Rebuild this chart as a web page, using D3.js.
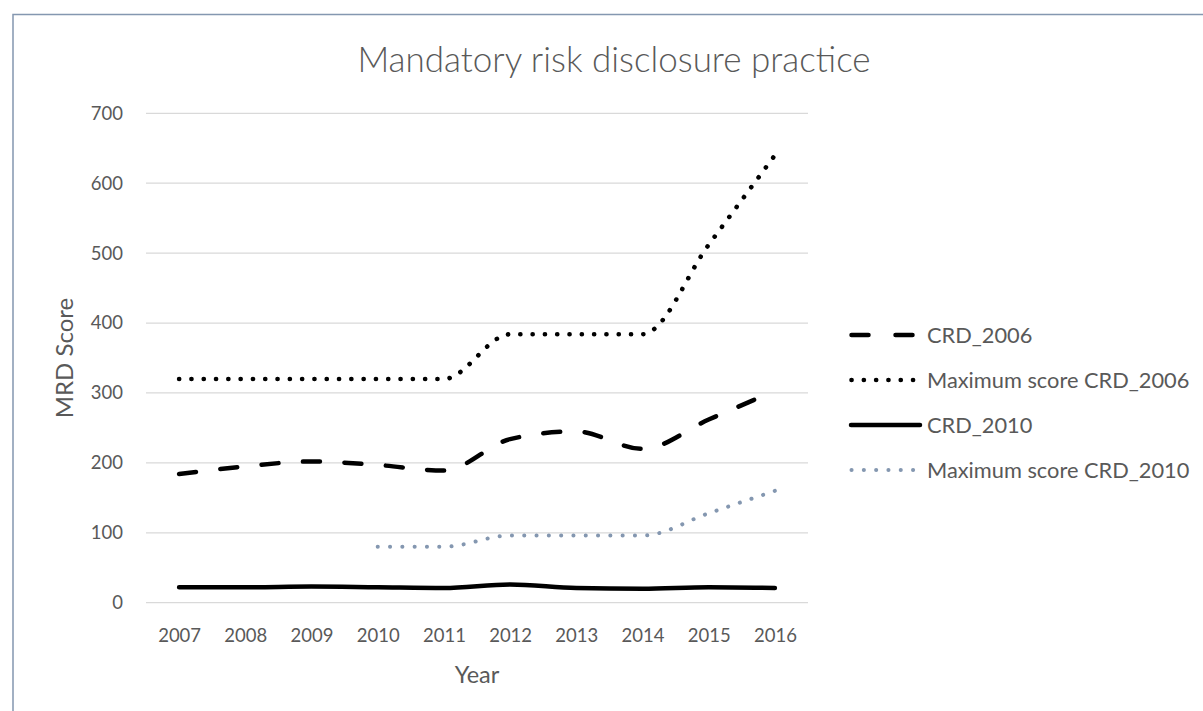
<!DOCTYPE html>
<html>
<head>
<meta charset="utf-8">
<script src="https://cdn.jsdelivr.net/npm/d3@7"></script>
<style>
  html, body { margin: 0; padding: 0; background: #ffffff; }
  svg { display: block; }
  text { font-family: Lato, "Open Sans", "Liberation Sans", sans-serif; fill: #595959; }
</style>
</head>
<body>
<svg id="chart" width="1203" height="711"></svg>
<script>
const years = ["2007","2008","2009","2010","2011","2012","2013","2014","2015","2016"];
const crd2006 = [184, 195, 202, 197, 189, 234, 245, 220, 262, 303];
const maxCrd2006 = [320, 320, 320, 320, 320, 384, 384, 384, 512, 640];
const crd2010 = [22, 22, 23, 22, 21, 26, 21, 20, 22, 21];
const maxCrd2010 = [null, null, null, 80, 80, 96, 96, 96, 128, 160];
const yTicks = [0, 100, 200, 300, 400, 500, 600, 700];
const seriesNames = ["CRD_2006", "Maximum score CRD_2006", "CRD_2010", "Maximum score CRD_2010"];

const series = [
  { name: seriesNames[0], values: crd2006, stroke: "#000000", width: 4.5, dash: "17,24.5", legDash: "17,27", cap: "round" },
  { name: seriesNames[1], values: maxCrd2006, stroke: "#000000", width: 4.6, dash: "0.1,12.2", legDash: "0.1,12.2", cap: "round" },
  { name: seriesNames[2], values: crd2010, stroke: "#000000", width: 4.5, dash: null, legDash: null, cap: "round" },
  { name: seriesNames[3], values: maxCrd2010, stroke: "#8497b0", width: 4, dash: "0.1,12.2", legDash: "0.1,12.2", cap: "round" }
];

const svg = d3.select("#chart");

// outer frame
svg.append("rect")
  .attr("x", 13).attr("y", 14.5)
  .attr("width", 1300).attr("height", 800)
  .attr("fill", "none").attr("stroke", "#8497b0").attr("stroke-width", 1.5);

const x = d3.scalePoint().domain(years).range([146, 808]).padding(0.5);
const y = d3.scaleLinear().domain([0, 700]).range([602.7, 113.3]);

// gridlines
svg.append("g")
  .selectAll("line")
  .data(yTicks)
  .join("line")
  .attr("x1", 146).attr("x2", 808)
  .attr("y1", d => y(d)).attr("y2", d => y(d))
  .attr("stroke", "#d9d9d9").attr("stroke-width", 1.3);

// y axis
const yAxis = svg.append("g")
  .attr("transform", "translate(146,0)")
  .call(d3.axisLeft(y).tickValues(yTicks).tickSize(0).tickPadding(23).tickFormat(d3.format("d")));
yAxis.select(".domain").remove();
yAxis.selectAll("text").style("font-size", "18.5px").style("fill", "#595959")
  .style("font-family", "Lato, 'Open Sans', sans-serif");

// x axis
const xAxis = svg.append("g")
  .attr("transform", "translate(0,602.7)")
  .call(d3.axisBottom(x).tickSize(0).tickPadding(26));
xAxis.select(".domain").remove();
xAxis.selectAll("text").style("font-size", "18.5px").style("fill", "#595959")
  .style("font-family", "Lato, 'Open Sans', sans-serif");

// lines
const line = d3.line()
  .defined(d => d != null)
  .x((d, i) => x(years[i]))
  .y(d => y(d))
  .curve(d3.curveMonotoneX);

svg.append("g")
  .selectAll("path")
  .data(series)
  .join("path")
  .attr("d", d => line(d.values))
  .attr("fill", "none")
  .attr("stroke", d => d.stroke)
  .attr("stroke-width", d => d.width)
  .attr("stroke-dasharray", d => d.dash)
  .attr("stroke-linecap", d => d.cap)
  .attr("stroke-linejoin", "round");

// title
svg.append("text")
  .attr("x", 614).attr("y", 72)
  .attr("text-anchor", "middle")
  .style("font-size", "35px")
  .style("font-weight", 300)
  .text("Mandatory risk disclosure practice");

// axis titles
svg.append("text")
  .attr("x", 477).attr("y", 683)
  .attr("text-anchor", "middle")
  .style("font-size", "23.5px")
  .text("Year");

svg.append("text")
  .attr("transform", "translate(73,358) rotate(-90)")
  .attr("text-anchor", "middle")
  .style("font-size", "24px")
  .text("MRD Score");

// legend
const legend = svg.append("g");
const legY = d3.scalePoint().domain(seriesNames).range([335, 470]);
const item = legend.selectAll("g")
  .data(series)
  .join("g")
  .attr("transform", d => `translate(0,${legY(d.name)})`);
item.append("line")
  .attr("x1", d => d.dash ? 851.5 : 851)
  .attr("x2", d => d.dash ? (d.dash.startsWith("17") ? 912.5 : 914) : 920)
  .attr("y1", 0).attr("y2", 0)
  .attr("stroke", d => d.stroke)
  .attr("stroke-width", d => d.width)
  .attr("stroke-dasharray", d => d.legDash)
  .attr("stroke-linecap", d => d.cap);
item.append("text")
  .attr("x", 927).attr("y", 0).attr("dy", "0.35em")
  .style("font-size", "21.8px")
  .text(d => d.name);
</script>
</body>
</html>
